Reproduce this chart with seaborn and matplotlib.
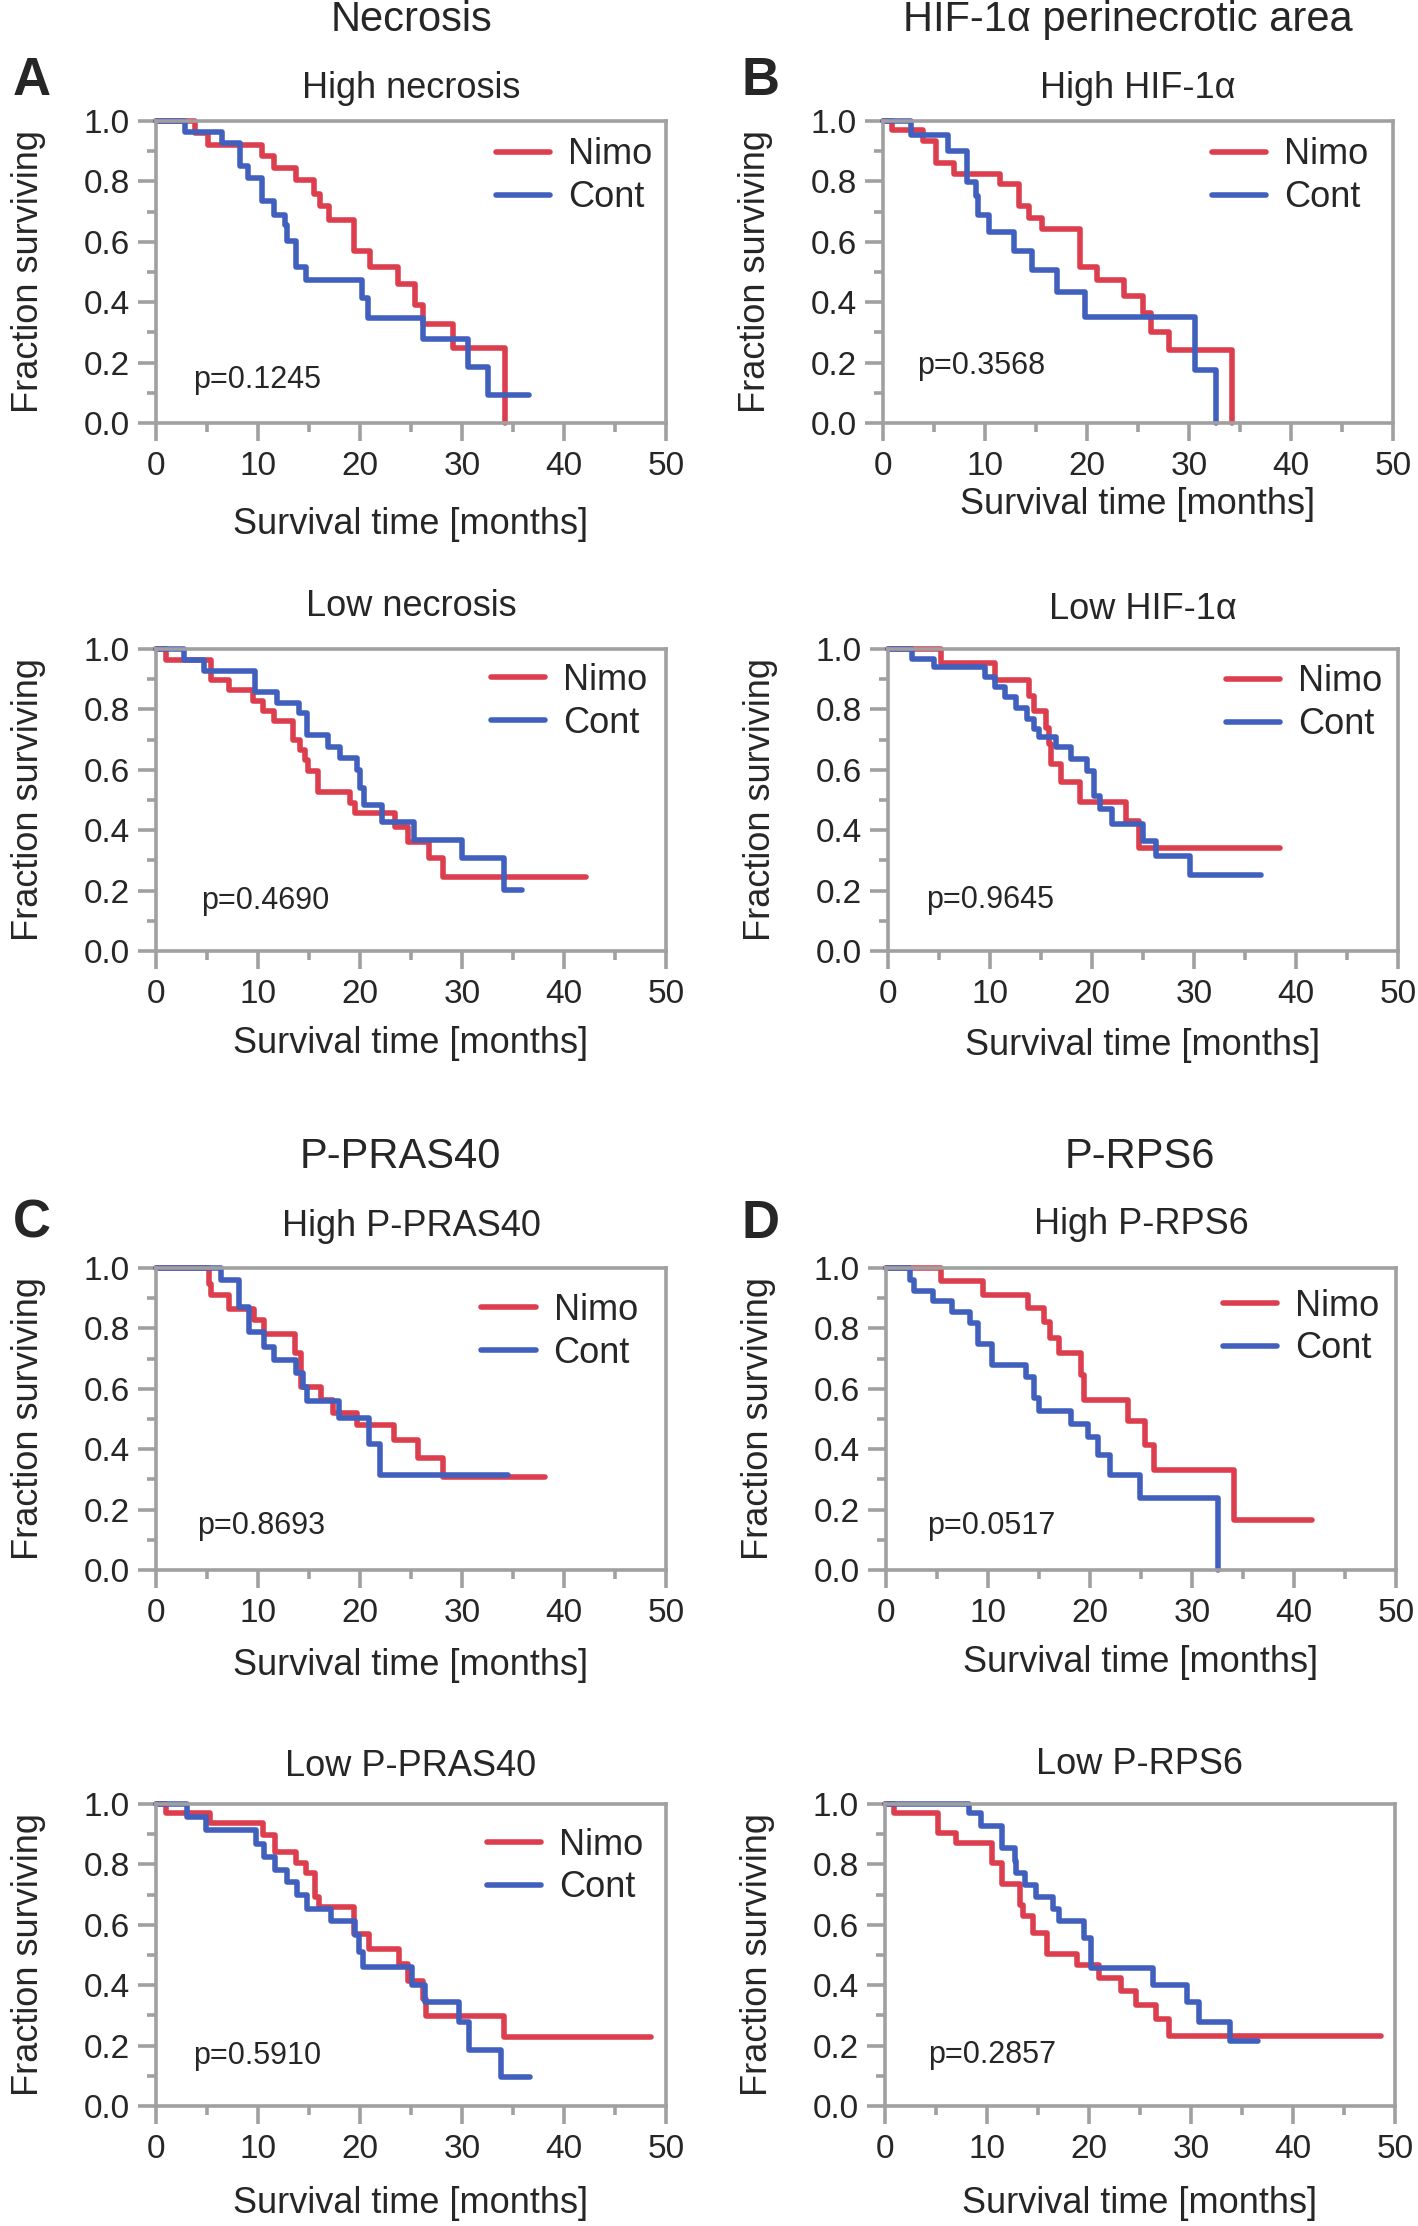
import matplotlib
matplotlib.use("Agg")
import matplotlib.pyplot as plt
import seaborn as sns
import pandas as pd
import numpy as np

# Kaplan-Meier steps: step times (months) and survival after each step
groups = ["Nimo", "Cont"]

# A - high necrosis
high_necrosis_nimo_t = [0, 3.8, 5.1, 10.4, 11.6, 13.7, 15.5, 16.1, 17.0, 19.4, 21.0, 23.7, 25.4, 26.2, 29.1, 34.2]
high_necrosis_nimo_s = [1.0, 0.961, 0.922, 0.883, 0.843, 0.803, 0.759, 0.718, 0.673, 0.568, 0.515, 0.460, 0.390, 0.327, 0.247, 0.0]
high_necrosis_cont_t = [0, 2.8, 6.5, 8.2, 9.0, 10.4, 11.6, 12.6, 12.8, 13.7, 14.7, 20.2, 20.8, 26.2, 30.6, 32.5, 36.6]
high_necrosis_cont_s = [1.0, 0.964, 0.928, 0.850, 0.812, 0.734, 0.690, 0.657, 0.601, 0.518, 0.474, 0.413, 0.347, 0.278, 0.186, 0.094, 0.094]

# B - high HIF-1a
high_hif_nimo_t = [0, 0.9, 3.9, 5.2, 7.0, 11.5, 13.3, 14.3, 15.6, 19.3, 21.0, 23.6, 25.5, 26.3, 28.0, 34.2]
high_hif_nimo_s = [1.0, 0.970, 0.934, 0.862, 0.823, 0.790, 0.718, 0.679, 0.643, 0.518, 0.474, 0.421, 0.363, 0.302, 0.241, 0.0]
high_hif_cont_t = [0, 2.7, 6.4, 8.2, 9.1, 9.3, 10.4, 12.8, 14.6, 17.1, 19.8, 30.6, 32.6]
high_hif_cont_s = [1.0, 0.952, 0.900, 0.797, 0.751, 0.690, 0.631, 0.568, 0.507, 0.435, 0.350, 0.175, 0.0]

# A - low necrosis
low_necrosis_nimo_t = [0, 1.0, 5.4, 7.2, 9.5, 10.5, 11.6, 13.4, 14.1, 14.6, 14.9, 15.9, 19.0, 19.5, 23.4, 24.7, 26.8, 28.1, 42.2]
low_necrosis_nimo_s = [1.0, 0.964, 0.897, 0.864, 0.828, 0.795, 0.762, 0.699, 0.666, 0.632, 0.596, 0.528, 0.489, 0.456, 0.412, 0.362, 0.307, 0.246, 0.246]
low_necrosis_cont_t = [0, 2.7, 4.75, 9.7, 11.9, 14.0, 14.85, 16.9, 18.0, 19.7, 20.0, 20.4, 22.2, 25.25, 30.0, 34.1, 35.9]
low_necrosis_cont_s = [1.0, 0.964, 0.927, 0.857, 0.820, 0.787, 0.715, 0.676, 0.640, 0.599, 0.540, 0.483, 0.428, 0.368, 0.307, 0.202, 0.202]

# B - low HIF-1a
low_hif_nimo_t = [0, 5.2, 10.5, 13.85, 14.35, 15.5, 15.75, 16.0, 17.0, 18.85, 23.3, 24.65, 38.4]
low_hif_nimo_s = [1.0, 0.952, 0.897, 0.845, 0.796, 0.740, 0.685, 0.619, 0.558, 0.495, 0.431, 0.340, 0.340]
low_hif_cont_t = [0, 2.4, 4.55, 9.5, 10.5, 11.5, 12.5, 13.6, 14.35, 14.8, 16.5, 17.9, 19.5, 20.2, 20.8, 22.0, 25.0, 26.3, 29.6, 36.6]
low_hif_cont_s = [1.0, 0.967, 0.941, 0.906, 0.873, 0.840, 0.804, 0.768, 0.735, 0.707, 0.674, 0.635, 0.597, 0.514, 0.470, 0.420, 0.365, 0.315, 0.252, 0.252]

# C - high P-PRAS40
high_pras_nimo_t = [0, 5.2, 5.4, 7.2, 9.6, 10.6, 13.6, 14.2, 16.2, 17.4, 19.7, 23.3, 25.7, 28.1, 38.1]
high_pras_nimo_s = [1.0, 0.948, 0.910, 0.864, 0.827, 0.780, 0.720, 0.607, 0.563, 0.519, 0.479, 0.431, 0.371, 0.308, 0.308]
high_pras_cont_t = [0, 6.4, 8.1, 9.1, 10.6, 11.6, 13.7, 14.4, 14.85, 17.9, 20.9, 22.0, 34.5]
high_pras_cont_s = [1.0, 0.959, 0.871, 0.789, 0.739, 0.695, 0.651, 0.607, 0.560, 0.503, 0.417, 0.313, 0.313]

# D - high P-RPS6
high_rps_nimo_t = [0, 5.4, 9.5, 13.9, 15.5, 16.1, 17.0, 19.1, 19.4, 23.7, 25.4, 26.3, 34.1, 41.8]
high_rps_nimo_s = [1.0, 0.956, 0.912, 0.868, 0.822, 0.769, 0.717, 0.646, 0.563, 0.494, 0.415, 0.332, 0.167, 0.167]
high_rps_cont_t = [0, 2.4, 2.75, 4.6, 6.5, 8.2, 9.0, 10.4, 13.7, 14.5, 15.0, 18.1, 19.8, 20.8, 21.95, 24.9, 32.5]
high_rps_cont_s = [1.0, 0.959, 0.923, 0.890, 0.855, 0.818, 0.750, 0.679, 0.640, 0.569, 0.525, 0.483, 0.442, 0.380, 0.316, 0.239, 0.0]

# C - low P-PRAS40
low_pras_nimo_t = [0, 1.0, 5.3, 10.5, 11.65, 13.7, 14.7, 15.6, 16.0, 19.4, 20.9, 23.8, 24.7, 26.2, 26.5, 34.1, 48.5]
low_pras_nimo_s = [1.0, 0.969, 0.936, 0.899, 0.840, 0.804, 0.771, 0.692, 0.659, 0.571, 0.521, 0.471, 0.414, 0.355, 0.297, 0.227, 0.227]
low_pras_cont_t = [0, 3.0, 4.9, 9.8, 10.6, 11.7, 12.8, 13.85, 14.8, 17.2, 19.5, 19.9, 20.3, 25.1, 26.35, 29.7, 30.7, 33.8, 36.7]
low_pras_cont_s = [1.0, 0.956, 0.914, 0.868, 0.824, 0.780, 0.742, 0.698, 0.653, 0.612, 0.565, 0.510, 0.460, 0.400, 0.345, 0.279, 0.185, 0.095, 0.095]

# D - low P-RPS6
low_rps_nimo_t = [0, 0.9, 5.15, 7.0, 10.5, 11.5, 13.25, 13.5, 14.5, 15.85, 18.8, 21.0, 23.1, 24.65, 26.6, 27.8, 48.6]
low_rps_nimo_s = [1.0, 0.970, 0.904, 0.871, 0.805, 0.735, 0.667, 0.628, 0.573, 0.503, 0.468, 0.424, 0.382, 0.336, 0.289, 0.231, 0.231]
low_rps_cont_t = [0, 8.2, 9.4, 11.5, 12.7, 12.85, 13.7, 14.85, 16.5, 17.1, 19.5, 20.2, 26.3, 29.6, 30.8, 33.8, 36.6]
low_rps_cont_s = [1.0, 0.970, 0.926, 0.854, 0.810, 0.772, 0.731, 0.691, 0.653, 0.611, 0.556, 0.457, 0.402, 0.344, 0.278, 0.214, 0.214]

panel_titles = ["High necrosis", "High HIF-1α", "Low necrosis", "Low HIF-1α",
                "High P-PRAS40", "High P-RPS6", "Low P-PRAS40", "Low P-RPS6"]
p_values = ["0.1245", "0.3568", "0.4690", "0.9645", "0.8693", "0.0517", "0.5910", "0.2857"]

curves = [
    (high_necrosis_nimo_t, high_necrosis_nimo_s, high_necrosis_cont_t, high_necrosis_cont_s),
    (high_hif_nimo_t, high_hif_nimo_s, high_hif_cont_t, high_hif_cont_s),
    (low_necrosis_nimo_t, low_necrosis_nimo_s, low_necrosis_cont_t, low_necrosis_cont_s),
    (low_hif_nimo_t, low_hif_nimo_s, low_hif_cont_t, low_hif_cont_s),
    (high_pras_nimo_t, high_pras_nimo_s, high_pras_cont_t, high_pras_cont_s),
    (high_rps_nimo_t, high_rps_nimo_s, high_rps_cont_t, high_rps_cont_s),
    (low_pras_nimo_t, low_pras_nimo_s, low_pras_cont_t, low_pras_cont_s),
    (low_rps_nimo_t, low_rps_nimo_s, low_rps_cont_t, low_rps_cont_s),
]

# layout in pixels of the 1418x2226 canvas:
# left, top, title offset, legend (x, y of Nimo row), p-value (x, y), xlabel y
layout = [
    (156, 121, 33, (0.666, 0.897), (0.072, 0.141), -0.278),
    (883, 121, 33, (0.645, 0.897), (0.067, 0.188), -0.212),
    (156, 649, 42, (0.657, 0.906), (0.089, 0.164), -0.248),
    (888, 649, 39, (0.662, 0.900), (0.075, 0.170), -0.255),
    (156, 1268, 42, (0.638, 0.869), (0.081, 0.146), -0.258),
    (886, 1268, 44, (0.660, 0.883), (0.081, 0.146), -0.248),
    (156, 1804, 37, (0.649, 0.873), (0.072, 0.164), -0.265),
    (885, 1804, 40, None, (0.084, 0.169), -0.265),
]

W, H = 1418, 2226
AX_W, AX_H = 510, 302
palette = {"Nimo": "#DC3E4E", "Cont": "#4160BE"}
frame = "#A0A0A0"
LW = 4

sns.set_style("white")
plt.rcParams["font.family"] = ["Liberation Sans", "DejaVu Sans"]

fig = plt.figure(figsize=(W / 100, H / 100), dpi=100)


def km_frame(nimo_t, nimo_s, cont_t, cont_s):
    parts = []
    for g, t, s in [("Nimo", nimo_t, nimo_s), ("Cont", cont_t, cont_s)]:
        parts.append(pd.DataFrame({"time": t, "surv": s, "group": g}))
    return pd.concat(parts, ignore_index=True)


for i, (curve, (left, top, t_off, leg_pos, p_pos, xl_y)) in enumerate(zip(curves, layout)):
    ax = fig.add_axes([left / W, 1 - (top + AX_H) / H, AX_W / W, AX_H / H])
    df = km_frame(*curve)
    sns.lineplot(data=df, x="time", y="surv", hue="group", hue_order=groups,
                 palette=palette, estimator=None, drawstyle="steps-post",
                 linewidth=LW, clip_on=False, ax=ax)

    ax.set_xlim(0, 50)
    ax.set_ylim(0, 1.0)
    ax.set_xticks(np.arange(0, 51, 10))
    ax.set_xticks(np.arange(5, 50, 10), minor=True)
    ax.set_yticks(np.arange(0, 1.01, 0.2))
    ax.set_yticks([0.1, 0.3, 0.5, 0.7, 0.9], minor=True)
    ax.set_yticklabels([f"{v:.1f}" for v in np.arange(0, 1.01, 0.2)])
    ax.tick_params(which="both", direction="out", color=frame, width=2.6,
                   labelsize=24, bottom=True, left=True, top=False, right=False)
    ax.tick_params(which="major", length=13, pad=6)
    ax.tick_params(which="minor", length=6.5)
    ax.tick_params(axis="x", which="major", pad=7)
    for sp in ax.spines.values():
        sp.set_color(frame)
        sp.set_linewidth(2.6)

    ax.set_xlabel("Survival time [months]", fontsize=26)
    ax.set_ylabel("Fraction surviving", fontsize=26)
    ax.xaxis.set_label_coords(0.5, xl_y)
    ax.yaxis.set_label_coords(-0.215, 0.5)

    ax.text(0.5, 1 + t_off / AX_H, panel_titles[i], transform=ax.transAxes,
            ha="center", va="center", fontsize=26)
    ax.text(p_pos[0], p_pos[1], "p=" + p_values[i], transform=ax.transAxes,
            ha="left", va="center", fontsize=22)

    old = ax.get_legend()
    if leg_pos is None:
        old.remove()
    else:
        handles = old.legend_handles
        labels = [t.get_text() for t in old.get_texts()]
        leg = ax.legend(handles, labels, loc="center left",
                        bbox_to_anchor=(leg_pos[0], leg_pos[1] - 0.08),
                        frameon=False, fontsize=26, handlelength=1.5,
                        handletextpad=0.5, labelspacing=0.22,
                        borderpad=0, borderaxespad=0)
        for ln in leg.get_lines():
            ln.set_linewidth(LW)

# column headers and panel letters
fig.text(412 / W, 1 - 20 / H, "Necrosis", ha="center", va="center", fontsize=30)
fig.text(1128 / W, 1 - 20 / H, "HIF-1α perinecrotic area", ha="center", va="center", fontsize=30)
fig.text(400 / W, 1 - 1157 / H, "P-PRAS40", ha="center", va="center", fontsize=30)
fig.text(1140 / W, 1 - 1157 / H, "P-RPS6", ha="center", va="center", fontsize=30)
for letter, (x, y) in zip("ABCD", [(32, 81), (760, 81), (32, 1224), (760, 1224)]):
    fig.text(x / W, 1 - y / H, letter, ha="center", va="center",
             fontsize=38, fontweight="bold")

fig.savefig("out.png", dpi=100, facecolor="white")
